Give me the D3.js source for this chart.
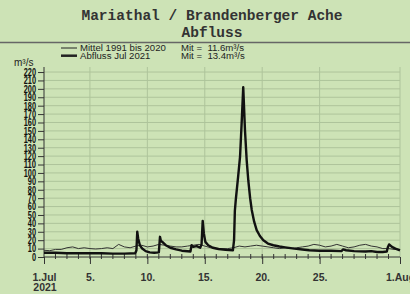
<!DOCTYPE html>
<html>
<head>
<meta charset="utf-8">
<script src="https://cdn.jsdelivr.net/npm/d3@7"></script>
<style>
  body { margin: 0; background: #cde3b6; }
  svg { display: block; }
</style>
</head>
<body>
<div id="chart"></div>
<script>
// chart data (day offsets counted from 1 Jul 2021 00:00)
var titleLines = ["Mariathal / Brandenberger Ache", "Abfluss"];
var seriesNames = ["Mittel 1991 bis 2020", "Abfluss Jul 2021"];
var seriesMeans = ["Mit =  11.6m³/s", "Mit =  13.4m³/s"];

var mittelTage = [0, 0.5, 1, 1.5, 2, 2.5, 3, 3.5, 4, 4.5, 5, 5.5, 6, 6.5, 7, 7.5, 8, 8.5, 9, 9.5,
                  10, 10.5, 11, 11.5, 12, 12.5, 13, 13.5, 14, 14.5, 15, 15.5, 16, 16.5, 17, 17.5, 18, 18.5, 19, 19.5,
                  20, 20.5, 21, 21.5, 22, 22.5, 23, 23.5, 24, 24.5, 25, 25.5, 26, 26.5, 27, 27.5, 28, 28.5, 29, 29.5,
                  30, 30.5, 31];
var mittelWerte = [8, 7.5, 9, 9, 11, 12, 10, 11, 10, 9.5, 10, 11, 10, 15, 12, 11, 13, 14, 12, 13,
                   15, 14, 13, 12, 12, 13, 14, 15, 13, 11, 10, 10, 10, 11, 13, 12, 13, 14, 13, 12,
                   11, 10, 11, 10, 11, 12, 13, 15, 14, 12, 13, 15, 13, 11, 12, 14, 15, 13, 12, 10,
                   10, 9, 9];

var abflussTage = [0, 1, 2, 3, 4, 5, 6, 7, 7.95, 8.05, 8.12, 8.2, 8.35, 8.55, 8.85, 9.2, 9.6, 10.0,
                   10.1, 10.18, 10.3, 10.6, 11.0, 11.5, 12.0, 12.75, 12.85, 13.0, 13.3, 13.6, 13.72, 13.82,
                   13.92, 14.05, 14.3, 14.7, 15.2, 15.8, 16.45, 16.55, 16.62, 16.7, 16.9, 17.07, 17.21, 17.35,
                   17.5, 17.65, 17.79, 17.95, 18.09, 18.3, 18.52, 18.8, 19.1, 19.5, 19.97, 20.5, 21.0, 21.8, 22.5,
                   23.1, 24, 25, 25.9, 26.05, 26.3, 27, 28, 28.5, 29, 29.5, 29.85, 29.95, 30.05, 30.3, 30.6, 31.0];
var abflussWerte = [5, 5, 4.5, 4.5, 4.5, 4.5, 4, 4, 4.5, 8, 30, 22, 14, 10, 7, 5.5, 5, 5.5,
                    24, 19, 18, 14, 11, 9, 7.5, 6.5, 14, 12, 13, 11, 15, 43,
                    28, 18, 14, 11, 9.5, 8.5, 8, 20, 55, 68, 95, 119, 159, 202,
                    151, 115, 91, 70, 56, 42, 32, 25, 20, 16, 14, 12.5, 11.5, 10, 9,
                    8, 7.5, 7.5, 7, 9, 8, 7, 6.5, 7, 6, 6, 6.5, 12, 15, 12, 10, 8];

var yTicks = d3.range(0, 221, 10);
var xTickDays = [0, 4, 9, 14, 19, 24, 31];
var xTickLabels = ["1.Jul", "5.", "10.", "15.", "20.", "25.", "1.Aug"];
var yearLabel = "2021";
var unitLabel = "m³/s";

var W = 410, H = 294;
var start = Date.UTC(2021, 6, 1);
function toDate(d) { return new Date(start + d * 86400000); }

var x = d3.scaleUtc()
    .domain([toDate(0), toDate(31)])
    .range([44, 400]);
var y = d3.scaleLinear()
    .domain([0, 226])
    .range([257, 67]);

var svg = d3.select("#chart").append("svg")
    .attr("width", W)
    .attr("height", H);

svg.append("rect").attr("width", W).attr("height", H).attr("fill", "#cde3b6");

// title
svg.selectAll("text.title")
    .data(titleLines)
    .enter().append("text")
    .attr("class", "title")
    .attr("x", 212)
    .attr("y", function (d, i) { return 20 + i * 16.5; })
    .attr("text-anchor", "middle")
    .style("font-family", "'Liberation Mono', 'Courier New', monospace")
    .style("font-weight", "bold")
    .style("font-size", "14.5px")
    .attr("fill", "#333")
    .text(function (d) { return d; });

svg.append("line")
    .attr("x1", 0).attr("x2", W)
    .attr("y1", 42.5).attr("y2", 42.5)
    .attr("stroke", "#666").attr("stroke-width", 1.5);

// legend
var legend = svg.append("g").style("font-family", "'Liberation Sans', Arial, sans-serif")
    .style("font-size", "9.6px").attr("fill", "#222");
seriesNames.forEach(function (name, i) {
    var ly = 48 + i * 7.7;
    legend.append("line")
        .attr("x1", 61).attr("x2", 77)
        .attr("y1", ly).attr("y2", ly)
        .attr("stroke", "#222").attr("stroke-width", i === 0 ? 1 : 2.5);
    legend.append("text").attr("x", 80).attr("y", ly + 3.4).text(name);
    legend.append("text").attr("x", 181).attr("y", ly + 3.4).attr("xml:space", "preserve").text(seriesMeans[i]);
});

// grid
svg.append("g")
    .selectAll("line")
    .data(yTicks.slice(1))
    .enter().append("line")
    .attr("x1", x(toDate(0))).attr("x2", x(toDate(31)))
    .attr("y1", function (d) { return y(d); })
    .attr("y2", function (d) { return y(d); })
    .attr("stroke", "#aec49b").attr("stroke-width", 1);

svg.append("g")
    .selectAll("line")
    .data(xTickDays.slice(1))
    .enter().append("line")
    .attr("x1", function (d) { return x(toDate(d)); })
    .attr("x2", function (d) { return x(toDate(d)); })
    .attr("y1", y(226)).attr("y2", y(0))
    .attr("stroke", "#aec49b").attr("stroke-width", 1);

// y axis
var yaxis = d3.axisLeft(y).tickValues(yTicks).tickSize(6).tickFormat(d3.format("d"));
var gy = svg.append("g")
    .attr("transform", "translate(" + x(toDate(0)) + ",0)")
    .call(yaxis);
gy.select(".domain").attr("stroke", "#333").attr("d", "M0," + y(226) + "V" + y(0));
gy.selectAll(".tick line").attr("stroke", "#333");
gy.selectAll(".tick text")
    .attr("x", -8)
    .attr("fill", "#111")
    .style("font-family", "'Liberation Sans', Arial, sans-serif")
    .style("font-size", "10.5px")
    .style("font-weight", "bold")
    .attr("textLength", function (d) { return String(d).length * 4.1; })
    .attr("lengthAdjust", "spacingAndGlyphs");

svg.append("text")
    .attr("x", 14).attr("y", 65.5)
    .style("font-family", "'Liberation Sans', Arial, sans-serif")
    .style("font-size", "10px")
    .attr("fill", "#222")
    .text(unitLabel);

// x axis
var xaxis = d3.axisBottom(x)
    .tickValues(xTickDays.map(toDate))
    .tickSize(7)
    .tickFormat(function (d, i) { return xTickLabels[i]; });
var gx = svg.append("g")
    .attr("transform", "translate(0," + y(0) + ")")
    .call(xaxis);
gx.select(".domain").attr("stroke", "#333").attr("d", "M" + x(toDate(0)) + ",0H" + x(toDate(31)));
gx.selectAll(".tick line").attr("stroke", "#333");
gx.selectAll(".tick text")
    .attr("y", 24)
    .attr("dy", 0)
    .attr("fill", "#333")
    .style("font-family", "'Liberation Sans', Arial, sans-serif")
    .style("font-size", "10.5px")
    .style("font-weight", "bold");

// minor day ticks
svg.append("g")
    .selectAll("line")
    .data(d3.range(1, 31))
    .enter().append("line")
    .attr("x1", function (d) { return x(toDate(d)); })
    .attr("x2", function (d) { return x(toDate(d)); })
    .attr("y1", y(0) - 3).attr("y2", y(0) + 2)
    .attr("stroke", "#333").attr("stroke-width", 1);

svg.append("text")
    .attr("x", x(toDate(0)) + 1).attr("y", 290.5)
    .attr("text-anchor", "middle")
    .attr("fill", "#333")
    .style("font-family", "'Liberation Sans', Arial, sans-serif")
    .style("font-size", "10.5px")
    .style("font-weight", "bold")
    .text(yearLabel);

// series
var line = d3.line()
    .x(function (d) { return x(toDate(d[0])); })
    .y(function (d) { return y(d[1]); });

svg.append("path")
    .datum(d3.zip(mittelTage, mittelWerte))
    .attr("fill", "none")
    .attr("stroke", "#333")
    .attr("stroke-width", 1)
    .attr("d", line);

svg.append("path")
    .datum(d3.zip(abflussTage, abflussWerte))
    .attr("fill", "none")
    .attr("stroke", "#111")
    .attr("stroke-width", 2.4)
    .attr("stroke-linejoin", "round")
    .attr("d", line);
</script>
</body>
</html>
